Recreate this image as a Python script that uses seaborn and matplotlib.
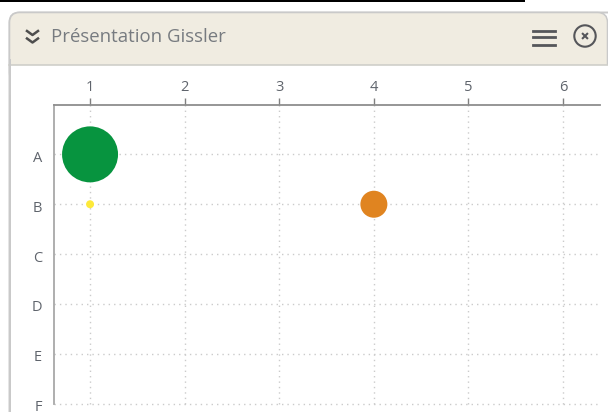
import matplotlib
matplotlib.use("Agg")
import matplotlib.pyplot as plt
from matplotlib.patches import FancyBboxPatch, Rectangle, Circle
from matplotlib.lines import Line2D
from matplotlib.transforms import ScaledTranslation
import pandas as pd
import seaborn as sns

x_labels = [1, 2, 3, 4, 5, 6]
y_labels = ["A", "B", "C", "D", "E", "F"]
point_x = [1, 1, 4]
point_y = ["A", "B", "B"]
point_size = [1625, 33, 378]
point_color = ["#07943F", "#FDE93A", "#E08420"]
title = "Présentation Gissler"

W, H = 608, 412
TEXT = "#5F646C"
plt.rcParams["font.family"] = ["Open Sans", "DejaVu Sans"]
fig = plt.figure(figsize=(W / 100, H / 100), dpi=100, facecolor="white")


def fx(px):
    return px / W


def fy(py):
    return 1 - py / H


# window chrome
chrome = fig.add_axes([0, 0, 1, 1], zorder=0)
chrome.set_xlim(0, W)
chrome.set_ylim(H, 0)
chrome.axis("off")
chrome.add_patch(Rectangle((0, 0), 525, 2.4, fc="black", ec="none"))
chrome.add_patch(FancyBboxPatch((9.5, 12.5), 640, 460, boxstyle="round,pad=0,rounding_size=10",
                                fc="white", ec="#C9C9C9", lw=1.4))
chrome.add_patch(FancyBboxPatch((9.5, 12.5), 598, 70, boxstyle="round,pad=0,rounding_size=10",
                                fc="#F0ECE1", ec="#C9C9C9", lw=1.1))
chrome.add_patch(Rectangle((8.8, 64.5), 600, 30, fc="white", ec="none"))
chrome.add_line(Line2D([9, 608], [64.5, 64.5], color="#CFCFCA", lw=1.2))
chrome.add_line(Line2D([9.5, 9.5], [60, 412], color="#C9C9C9", lw=1.4))
chrome.text(51, 36.5, title, fontsize=13.4, color="#777B80", va="center", ha="left")
for dy in (0, 7.5):
    chrome.add_line(Line2D([27, 32.5, 38], [31 + dy, 35 + dy, 31 + dy], color="#4E4E4E", lw=1.8))
for yy in (30.5, 37.3, 45):
    chrome.add_line(Line2D([533, 555], [yy, yy], color="#55565A", lw=2.0))
chrome.add_patch(Circle((585, 36), 10.7, fc="none", ec="#55565A", lw=1.5))
chrome.add_line(Line2D([582.8, 587.2], [33.8, 38.2], color="#55565A", lw=1.5))
chrome.add_line(Line2D([582.8, 587.2], [38.2, 33.8], color="#55565A", lw=1.5))

# plot
ax = fig.add_axes([fx(54), fy(403.7), fx(600 - 54), (403.7 - 104.5) / H], zorder=1)
ax.patch.set_alpha(0)
df = pd.DataFrame({"x": point_x, "y": [y_labels.index(v) for v in point_y], "key": range(len(point_x))})
sns.scatterplot(data=df, x="x", y="y", hue="key", size="key",
                palette=dict(enumerate(point_color)), sizes=dict(enumerate(point_size)),
                legend=False, linewidth=0, ax=ax, zorder=3, clip_on=False)
ax.set_xlim(0.619, 6.39)
ax.set_ylim(5, -1)
ax.set_xticks(x_labels)
ax.set_xticklabels([str(v) for v in x_labels])
ax.set_yticks(range(len(y_labels)))
ax.set_yticklabels(y_labels)
ax.set_xlabel("")
ax.set_ylabel("")
ax.xaxis.tick_top()
ax.tick_params(axis="x", length=5, width=1, color="#808080", labelcolor=TEXT, labelsize=10.5, pad=1.5)
ax.tick_params(axis="y", length=0, labelcolor=TEXT, labelsize=10.5, pad=8.5)
ax.grid(True, color="#CBCBCB", lw=1, linestyle=(0, (1, 2.9)))
for gl in ax.get_xgridlines() + ax.get_ygridlines():
    gl.set_clip_on(False)
ax.set_axisbelow(True)
shift = ScaledTranslation(0, -2 / 100, fig.dpi_scale_trans)
for label in ax.get_yticklabels():
    label.set_transform(label.get_transform() + shift)
for side in ("right", "bottom"):
    ax.spines[side].set_visible(False)
ax.spines["top"].set_color("#8E8E8E")
ax.spines["left"].set_color("#A8A8A8")
ax.spines["top"].set_linewidth(1.3)
ax.spines["left"].set_linewidth(1.3)

fig.savefig("out.png", dpi=100)
